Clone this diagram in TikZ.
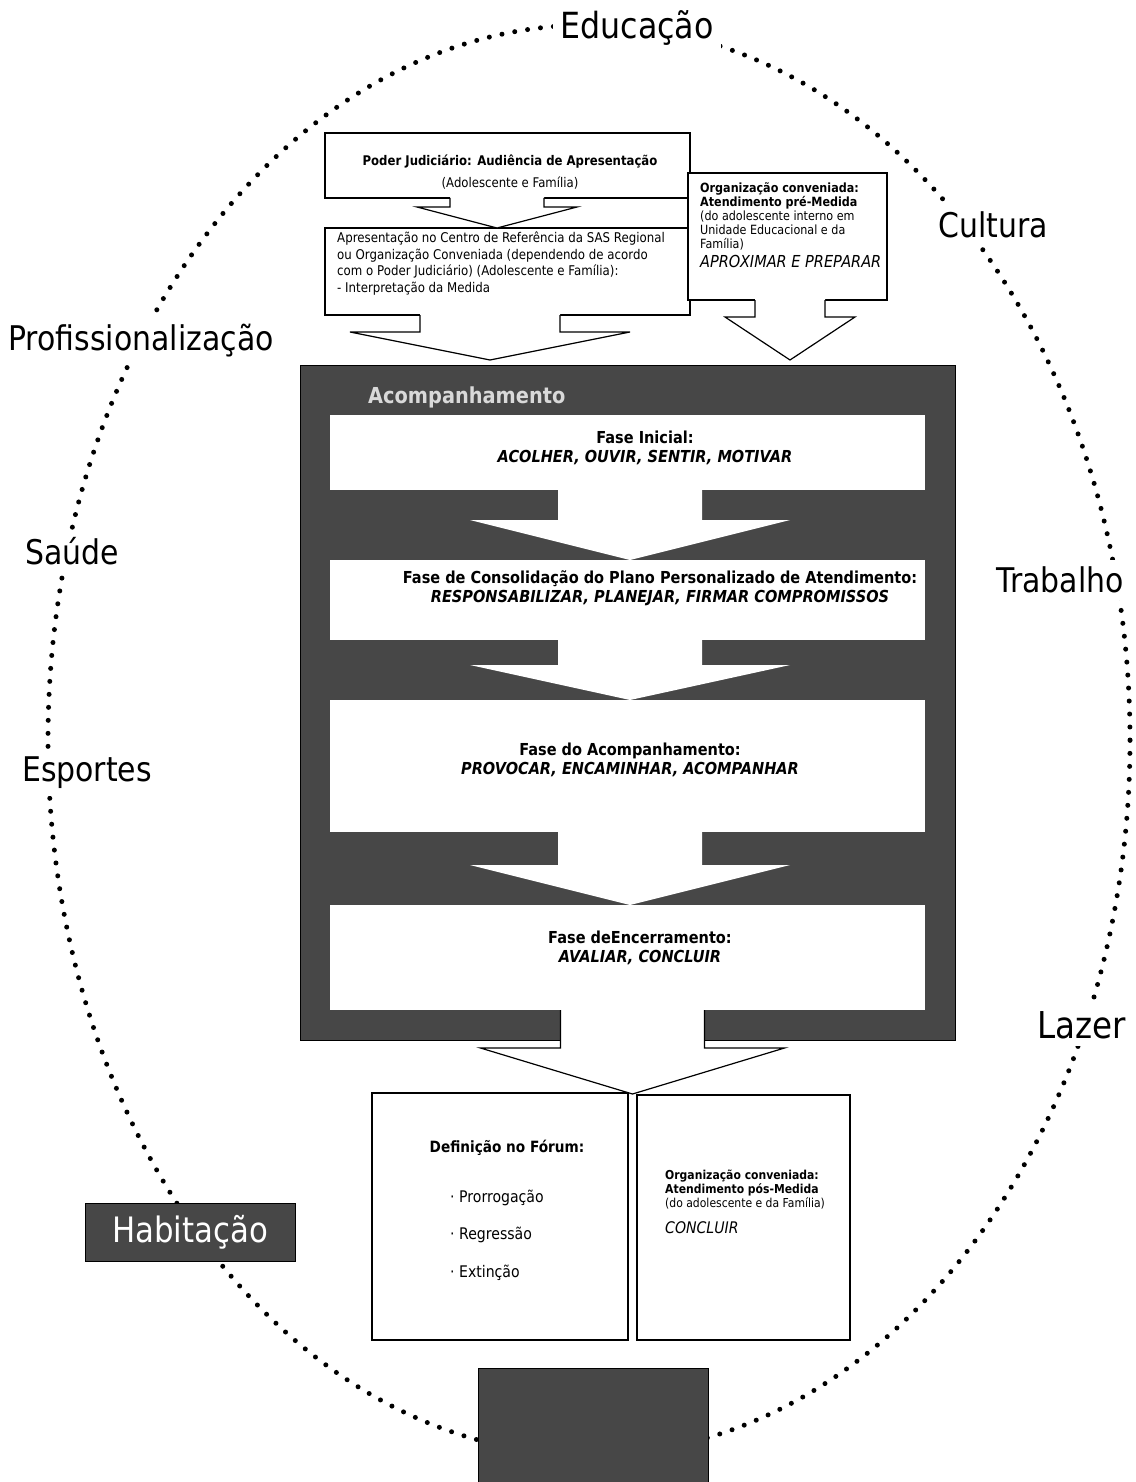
\documentclass[tikz,border=0pt]{standalone}
\usepackage{fontspec}
\setmainfont{DejaVu Sans}[FakeStretch=0.88]
\usetikzlibrary{calc}
% block arrow: #1 source point, #2 tip point, #3 shaft half width, #4 head half width, #5 head height, #6 outline style
\newcommand\blockarrow[6]{%
  \fill[white] let \p1=(#1), \p2=(#2) in
    (\x2-#3,\y1+2pt) -- (\x2-#3,\y2+#5) -- (\x2-#4,\y2+#5) -- (\x2,\y2)
    -- (\x2+#4,\y2+#5) -- (\x2+#3,\y2+#5) -- (\x2+#3,\y1+2pt) -- cycle;
  \draw[#6] let \p1=(#1), \p2=(#2) in
    (\x2-#3,\y1) -- (\x2-#3,\y2+#5) -- (\x2-#4,\y2+#5) -- (\x2,\y2)
    -- (\x2+#4,\y2+#5) -- (\x2+#3,\y2+#5) -- (\x2+#3,\y1);
}
\newcommand\fs[1]{\fontsize{#1}{#1}\selectfont}
\begin{document}
\begin{tikzpicture}[x=1pt,y=-1pt,
  box/.style={draw=black,line width=1.2pt,fill=white,inner sep=0pt,outer sep=0pt,anchor=north west},
  fasebox/.style={fill=white,draw=none,inner sep=0pt,outer sep=0pt,anchor=north west,minimum width=595pt},
  fasetxt/.style={align=center,font=\bfseries\fs{16.5},inner sep=0pt},
  lbl/.style={fill=white,inner sep=7pt,font=\fs{34}},
  dotline/.style={line width=5pt,line cap=round,dash pattern=on 0pt off 13pt},
  arrline/.style={draw=black,line width=1.2pt,line join=miter},
  darkbox/.style={fill=black!72,draw=black,line width=1pt,inner sep=0pt,outer sep=0pt}]
\useasboundingbox (0,0) rectangle (1135,1482);
\fill[white] (0,0) rectangle (1135,1482);

% dotted ellipse
\draw[dotline] (589,740) ellipse [x radius=541pt, y radius=715pt];

% labels on the ellipse
\node[lbl,font=\fs{36}] (edu) at (637,28) {Educação};
\node[lbl] (cul) at (993,225) {Cultura};
\node[lbl] (pro) at (141,341) {Profissionalização};
\node[lbl] (sau) at (72,551) {Saúde};
\node[lbl] (tra) at (1060,580) {Trabalho};
\node[lbl] (esp) at (87,773) {Esportes};
\node[lbl,font=\fs{37}] (laz) at (1082,1025) {Lazer};
\node[darkbox,minimum width=210pt,minimum height=58pt,text=white,font=\fs{35}] (hab) at (190,1232) {Habitação};
\node[darkbox,minimum width=230pt,minimum height=114pt] (fam) at (593,1425) {};

% top boxes
\node[box,minimum width=365pt,minimum height=65pt] (P) at (325,133) {};
\node[align=center,inner sep=0pt,font=\fs{13.3}] (Pt) at (510,172)
  {{\bfseries Poder Judiciário: Audiência de Apresentação}\\[7pt](Adolescente e Família)};
\node[box,minimum width=365pt,minimum height=87pt] (A) at (325,228) {};
\node[anchor=north west,align=left,inner sep=0pt,font=\fontsize{13.4}{16.5}\selectfont] (At) at (337,232)
  {Apresentação no Centro de Referência da SAS Regional\\
   ou Organização Conveniada (dependendo de acordo\\
   com o Poder Judiciário) (Adolescente e Família):\\
   - Interpretação da Medida};
\node[box,minimum width=199pt,minimum height=127pt] (O) at (688,173) {};
\node[anchor=north west,align=left,inner sep=0pt,font=\fontsize{12.7}{14.2}\selectfont] (Ot) at (700,182)
  {{\bfseries Organização conveniada:}\\
   {\bfseries Atendimento pré-Medida}\\
   (do adolescente interno em\\
   Unidade Educacional e da\\
   Família)\\[4pt]
   {\itshape\fs{16.5}APROXIMAR E PREPARAR}};

% main frame
\node[darkbox,anchor=north west,minimum width=655pt,minimum height=675pt] (M) at (300,365) {};
\node[anchor=west,text=white!85!black,font=\bfseries\fs{22},inner sep=0pt] (Mt) at (368,397) {Acompanhamento};

\blockarrow{P.south}{$(A.north west)+(172,0)$}{47pt}{80pt}{21pt}{arrline}
\blockarrow{A.south}{$(M.north west)+(190,-5)$}{70pt}{140pt}{28pt}{arrline}
\blockarrow{O.south}{$(M.north west)+(490,-5)$}{35pt}{65pt}{43pt}{arrline}

% phases
\node[fasebox,minimum height=75pt] (B1) at (330,415) {};
\node[fasebox,minimum height=80pt] (B2) at (330,560) {};
\node[fasebox,minimum height=132pt] (B3) at (330,700) {};
\node[fasebox,minimum height=105pt] (B4) at (330,905) {};
\blockarrow{B1.south}{$(B2.north west)+(300,0)$}{72pt}{160pt}{40pt}{draw=none}
\blockarrow{B2.south}{$(B3.north west)+(300,0)$}{72pt}{160pt}{35pt}{draw=none}
\blockarrow{B3.south}{$(B4.north west)+(300,0)$}{72pt}{160pt}{40pt}{draw=none}

\node[fasetxt] (B1t) at (645,448) {Fase Inicial:\\[2pt]\itshape ACOLHER, OUVIR, SENTIR, MOTIVAR};
\node[fasetxt] (B2t) at (660,588) {Fase de Consolidação do Plano Personalizado de Atendimento:\\[2pt]\itshape RESPONSABILIZAR, PLANEJAR, FIRMAR COMPROMISSOS};
\node[fasetxt] (B3t) at (630,760) {Fase do Acompanhamento:\\[2pt]\itshape PROVOCAR, ENCAMINHAR, ACOMPANHAR};
\node[fasetxt] (B4t) at (640,948) {Fase deEncerramento:\\[2pt]\itshape AVALIAR, CONCLUIR};

% bottom boxes
\node[box,minimum width=256pt,minimum height=247pt] (D) at (372,1093) {};
\node[box,minimum width=213pt,minimum height=245pt] (C) at (637,1095) {};
\blockarrow{B4.south}{$(D.north east)!0.5!(C.north west)$}{72pt}{152pt}{46pt}{arrline}

\node[font=\bfseries\fs{15.5},inner sep=0pt] (Dt) at (507,1148) {Definição no Fórum:};
\node[anchor=west,font=\fs{16},inner sep=0pt] (D1) at (450,1198) {· Prorrogação};
\node[anchor=west,font=\fs{16},inner sep=0pt] (D2) at (450,1235) {· Regressão};
\node[anchor=west,font=\fs{16},inner sep=0pt] (D3) at (450,1273) {· Extinção};

\node[anchor=north west,align=left,font=\fontsize{12.3}{14}\selectfont,inner sep=0pt] (Ct) at (665,1170)
  {{\bfseries Organização conveniada:}\\
   {\bfseries Atendimento pós-Medida}\\
   (do adolescente e da Família)\\[12pt]
   {\itshape\fs{16}CONCLUIR}};
\end{tikzpicture}
\end{document}
